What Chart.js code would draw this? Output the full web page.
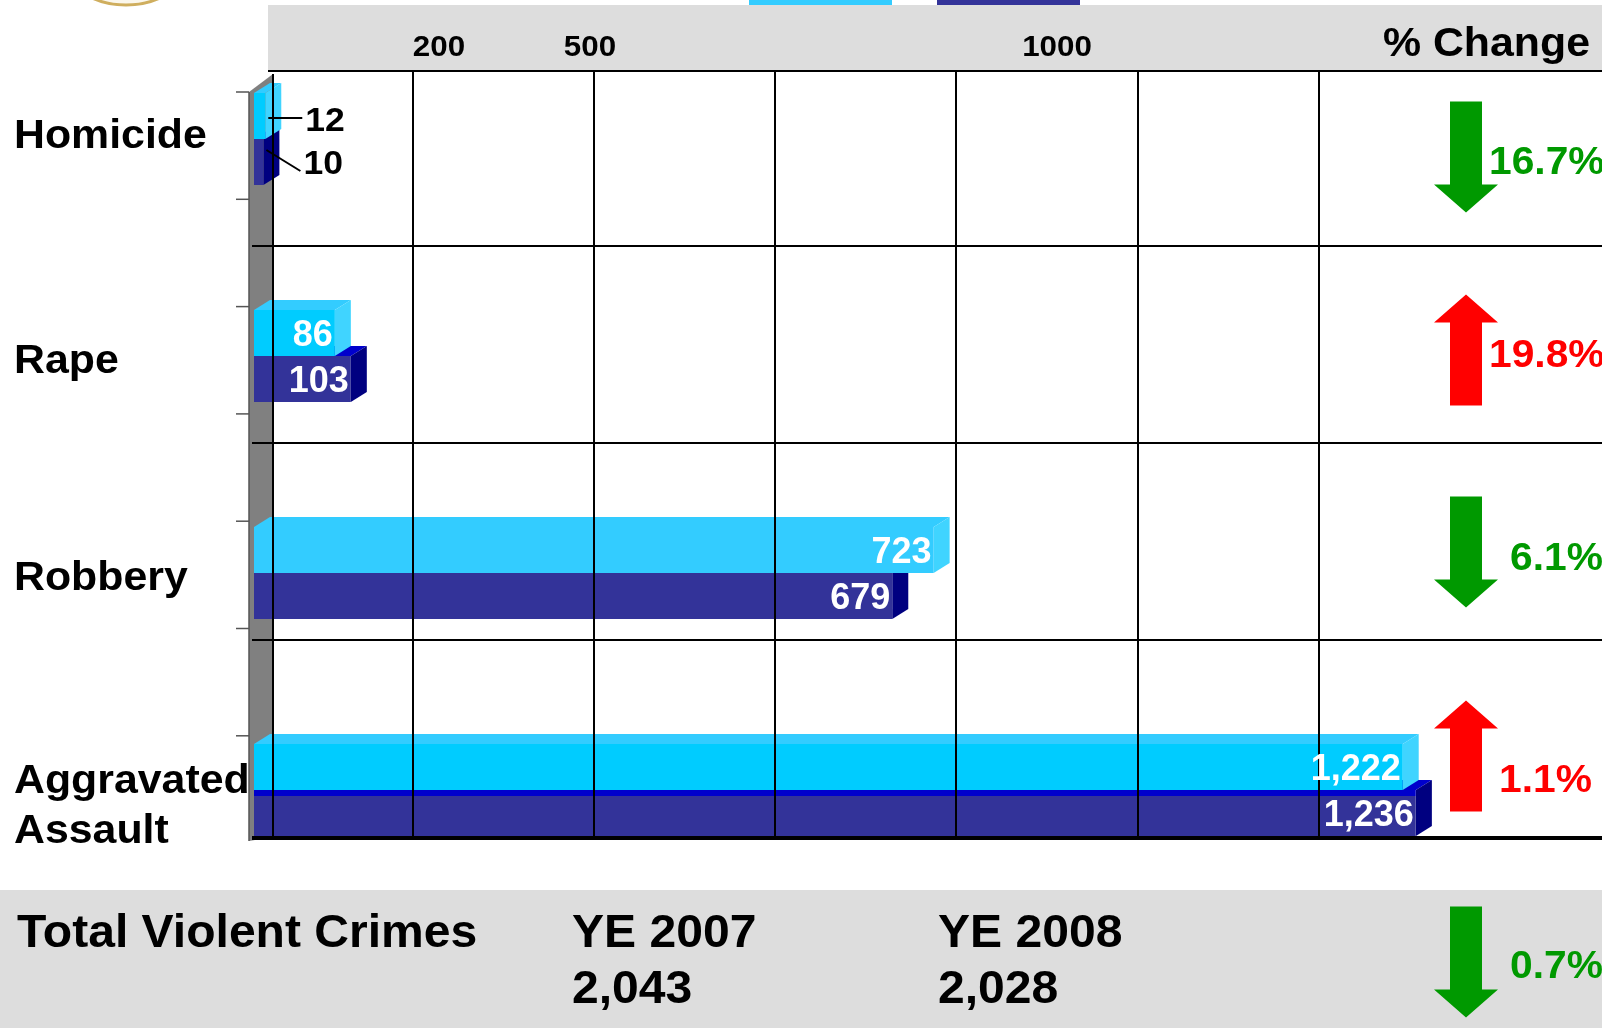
<!DOCTYPE html>
<html>
<head>
<meta charset="utf-8">
<title>Violent Crimes YE 2007 vs YE 2008</title>
<script src="https://cdn.jsdelivr.net/npm/chart.js@4.4.1/dist/chart.umd.min.js"></script>
<style>
  html, body { margin: 0; padding: 0; background: #fff; overflow: hidden; }
  #wrap { position: relative; width: 1602px; height: 1028px; }
</style>
</head>
<body>
<div id="wrap"><canvas id="crimeChart"></canvas></div>
<script>
// data
const categories = [["Homicide"], ["Rape"], ["Robbery"], ["Aggravated", "Assault"]];
const seriesNames = ["YE 2007", "YE 2008"];
const ye2007 = [12, 86, 723, 1222];
const ye2008 = [10, 103, 679, 1236];
const pctChange = [-16.7, 19.8, -6.1, 1.1];
const totals = [2043, 2028];
const totalPctChange = -0.7;
const headerTicks = ["200", "500", "1000"];
const gridValues = [149, 342, 534, 727, 920, 1113];

const FONT = '"Liberation Sans", Arial, Helvetica, sans-serif';
const STRETCH = 1.045; // slide text is a bit wider than plain Arial

const COLORS = {
  light: ["#00ccff", "#00ccff", "#33ccff", "#00ccff"],
  lightTop: "#33ccff",
  lightSide: "#40d4ff",
  dark: "#333399",
  darkTop: "#0000cc",
  darkSide: "#000080",
  up: "#ff0000",
  down: "#009900",
  band: "#dddddd",
  wall: "#808080",
};

// slide geometry (back wall of the 3d chart, header, footer, change column)
const LAYOUT = {
  wallX0: 249,
  wallX1: 273,
  backTop: 49,
  backRow: 197,
  headerLeft: 268,
  headerTop: 5,
  headerBottom: 71,
  footerTop: 890,
  depthX: 19,
  faceDx: 16,
  faceDy: 10,
  headerTickX: [439, 590, 1057],
  labelX: 14,
  labelNudge: [-4, 4, 4, 4],
  arrowX: 1466,
  arrowY: [157, 350, 552, 756, 962],
  pctX: [1489, 1489, 1510, 1499, 1510],
  pctY: [163, 356, 559, 781, 967],
  footerX: [572, 938],
};

// dark top edge only shows on the last bar (3d artefact)
const darkTopEdge = [0, 0, 0, 6];

function poly(ctx, pts, color) {
  ctx.beginPath();
  ctx.moveTo(pts[0][0], pts[0][1]);
  for (let i = 1; i < pts.length; i++) ctx.lineTo(pts[i][0], pts[i][1]);
  ctx.closePath();
  ctx.fillStyle = color;
  ctx.fill();
}

function line(ctx, x0, y0, x1, y1, w) {
  ctx.lineWidth = w;
  ctx.beginPath();
  ctx.moveTo(x0, y0);
  ctx.lineTo(x1, y1);
  ctx.stroke();
}

function text(ctx, str, x, y, align) {
  ctx.save();
  ctx.translate(x, y);
  ctx.scale(STRETCH, 1);
  ctx.textAlign = align;
  ctx.fillText(str, 0, 0);
  ctx.restore();
}

function arrow(ctx, cx, cy, up, color) {
  const H = 111, shaftW = 32, headW = 64, headH = 28;
  const s = up ? 1 : -1;
  const tip = cy - s * H / 2;
  const neck = tip + s * headH;
  const tail = cy + s * H / 2;
  poly(ctx, [
    [cx, tip],
    [cx + headW / 2, neck],
    [cx + shaftW / 2, neck],
    [cx + shaftW / 2, tail],
    [cx - shaftW / 2, tail],
    [cx - shaftW / 2, neck],
    [cx - headW / 2, neck],
  ], color);
}

const slideDecor = {
  id: "slideDecor",
  beforeDraw(chart) {
    const { ctx, width, height } = chart;
    ctx.save();
    ctx.fillStyle = "#fff";
    ctx.fillRect(0, 0, width, height);

    // bottom of the seal logo peeking in at the top
    ctx.beginPath();
    ctx.ellipse(126, -42, 64, 47, 0, 0, Math.PI * 2);
    ctx.fillStyle = "#fbf7ec";
    ctx.fill();
    ctx.strokeStyle = "#cfae5e";
    ctx.lineWidth = 3;
    ctx.stroke();

    // legend swatches cut off at the top edge
    ctx.fillStyle = COLORS.lightTop;
    ctx.fillRect(749, 0, 143, 5);
    ctx.fillStyle = COLORS.dark;
    ctx.fillRect(937, 0, 143, 5);

    // header and footer bands
    ctx.fillStyle = COLORS.band;
    ctx.fillRect(LAYOUT.headerLeft, LAYOUT.headerTop, width - LAYOUT.headerLeft, LAYOUT.headerBottom - LAYOUT.headerTop);
    ctx.fillRect(0, LAYOUT.footerTop, width, height - LAYOUT.footerTop);

    // side wall
    const bottom = LAYOUT.backTop + 4 * LAYOUT.backRow;
    poly(ctx, [
      [LAYOUT.wallX0, 92],
      [LAYOUT.wallX1, 74],
      [LAYOUT.wallX1, bottom],
      [LAYOUT.wallX0, bottom + 4],
    ], COLORS.wall);
    ctx.strokeStyle = "#555";
    line(ctx, LAYOUT.wallX0, 92, LAYOUT.wallX0, bottom + 4, 1.5);
    for (let k = 0; k < 7; k++) {
      const ty = 92 + k * 107.3;
      line(ctx, 236, ty, LAYOUT.wallX0, ty, 1.5);
    }
    ctx.restore();
  },

  beforeDatasetsDraw(chart) {
    const { ctx } = chart;
    const dx = LAYOUT.faceDx, dy = LAYOUT.faceDy;
    ctx.save();
    [1, 0].forEach((di) => {
      chart.getDatasetMeta(di).data.forEach((bar) => {
        const top = bar.y - bar.height / 2;
        const bot = bar.y + bar.height / 2;
        const topC = di === 0 ? COLORS.lightTop : COLORS.darkTop;
        const sideC = di === 0 ? COLORS.lightSide : COLORS.darkSide;
        poly(ctx, [[bar.base, top], [bar.base + dx, top - dy], [bar.x + dx, top - dy], [bar.x, top]], topC);
        poly(ctx, [[bar.x, top], [bar.x + dx, top - dy], [bar.x + dx, bot - dy], [bar.x, bot]], sideC);
      });
    });
    ctx.restore();
  },

  afterDatasetsDraw(chart) {
    const { ctx, width, scales } = chart;
    const bottom = LAYOUT.backTop + 4 * LAYOUT.backRow;
    ctx.save();

    // grid on the back wall, drawn over the bars like the original
    ctx.strokeStyle = "#000";
    line(ctx, LAYOUT.headerLeft, LAYOUT.headerBottom, width, LAYOUT.headerBottom, 2);
    for (let k = 1; k < 4; k++) {
      const gy = LAYOUT.backTop + k * LAYOUT.backRow;
      line(ctx, LAYOUT.wallX0 + 3, gy, width, gy, 2);
    }
    line(ctx, LAYOUT.wallX1, 74, LAYOUT.wallX1, bottom, 2);
    gridValues.forEach((v) => {
      const gx = Math.round(scales.x.getPixelForValue(v) + LAYOUT.depthX);
      line(ctx, gx, LAYOUT.headerBottom, gx, bottom, 2);
    });
    line(ctx, LAYOUT.wallX0 + 3, bottom + 1, width, bottom + 1, 4);

    // value labels
    const values = [ye2007, ye2008];
    ctx.textBaseline = "middle";
    [0, 1].forEach((di) => {
      chart.getDatasetMeta(di).data.forEach((bar, i) => {
        const v = values[di][i];
        const txt = v.toLocaleString("en-US");
        if (bar.x - bar.base > 60) {
          ctx.font = `bold 36px ${FONT}`;
          ctx.fillStyle = "#fff";
          ctx.textAlign = "right";
          ctx.fillText(txt, bar.x - 2, bar.y + 3);
        } else {
          const lx = bar.x + 40;
          const ly = di === 0 ? bar.y + 6 : bar.y + 3;
          ctx.strokeStyle = "#000";
          if (di === 0) line(ctx, bar.x + 3, ly - 4, lx - 3, ly - 4, 2);
          else line(ctx, bar.x + 3, bar.y - 12, lx - 3, ly + 6, 2);
          ctx.font = `bold 34px ${FONT}`;
          ctx.fillStyle = "#000";
          text(ctx, txt, lx, ly, "left");
        }
      });
    });

    // category labels
    ctx.font = `bold 41px ${FONT}`;
    ctx.fillStyle = "#000";
    categories.forEach((lines, i) => {
      const cy = scales.y.getPixelForValue(i) + LAYOUT.labelNudge[i] + (lines.length > 1 ? 13 : 2);
      lines.forEach((t, j) => {
        text(ctx, t, LAYOUT.labelX, cy + (j - (lines.length - 1) / 2) * 50, "left");
      });
    });

    // header labels
    ctx.font = `bold 30px ${FONT}`;
    headerTicks.forEach((t, i) => text(ctx, t, LAYOUT.headerTickX[i], 48, "center"));
    ctx.font = `bold 41px ${FONT}`;
    text(ctx, "% Change", 1590, 45, "right");

    // change arrows and percentages
    const drawChange = (pct, i) => {
      const up = pct > 0;
      const color = up ? COLORS.up : COLORS.down;
      arrow(ctx, LAYOUT.arrowX, LAYOUT.arrowY[i], up, color);
      ctx.font = `bold 39px ${FONT}`;
      ctx.fillStyle = color;
      text(ctx, Math.abs(pct).toFixed(1) + "%", LAYOUT.pctX[i], LAYOUT.pctY[i], "left");
    };
    pctChange.forEach((p, i) => drawChange(p, i));
    drawChange(totalPctChange, pctChange.length);

    // footer totals
    ctx.font = `bold 46px ${FONT}`;
    ctx.fillStyle = "#000";
    ctx.textBaseline = "alphabetic";
    text(ctx, "Total Violent Crimes", 17, 947, "left");
    seriesNames.forEach((name, i) => {
      text(ctx, name, LAYOUT.footerX[i], 947, "left");
      text(ctx, totals[i].toLocaleString("en-US"), LAYOUT.footerX[i], 1003, "left");
    });

    ctx.restore();
  },
};

const ctx = document.getElementById("crimeChart").getContext("2d");
const crimeChart = new Chart(ctx, {
  type: "bar",
  data: {
    labels: categories.map((c) => c.join(" ")),
    datasets: [
      {
        label: seriesNames[0],
        data: ye2007,
        backgroundColor: COLORS.light,
        borderWidth: 0,
        categoryPercentage: 0.424,
        barPercentage: 1,
      },
      {
        label: seriesNames[1],
        data: ye2008,
        backgroundColor: COLORS.dark,
        borderColor: COLORS.darkTop,
        borderSkipped: "start",
        borderWidth: (c) => ({ top: darkTopEdge[c.dataIndex] || 0, right: 0, bottom: 0, left: 0 }),
        categoryPercentage: 0.424,
        barPercentage: 1,
      },
    ],
  },
  options: {
    indexAxis: "y",
    responsive: true,
    maintainAspectRatio: false,
    animation: false,
    layout: { padding: { left: 254, right: 0, top: 30.5, bottom: 129.5 } },
    scales: {
      x: { type: "linear", min: 0, max: 1434, display: false },
      y: { type: "category", display: false },
    },
    plugins: {
      legend: { display: false },
      tooltip: { enabled: false },
    },
  },
  plugins: [slideDecor],
});
</script>
</body>
</html>
